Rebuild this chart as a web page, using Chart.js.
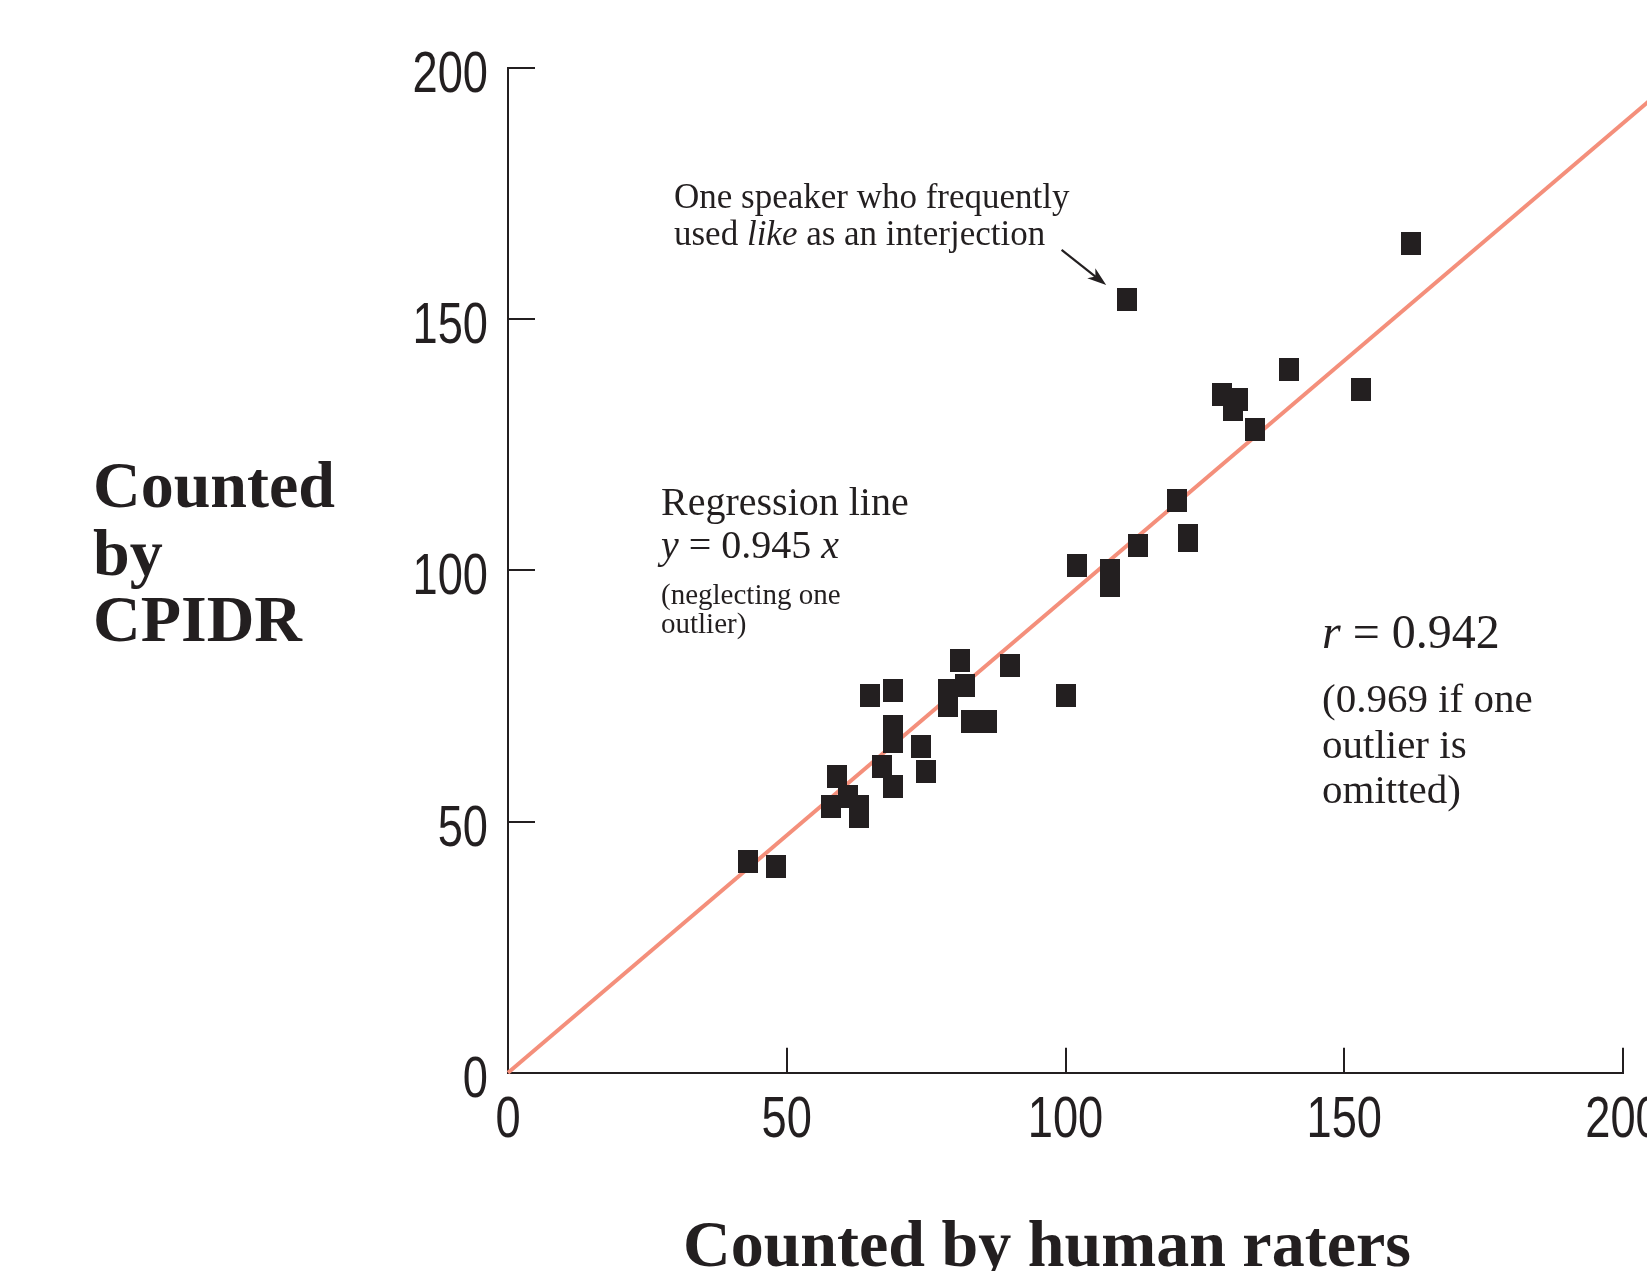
<!DOCTYPE html>
<html><head><meta charset="utf-8">
<script src="https://cdn.jsdelivr.net/npm/chart.js@4"></script>
<style>
html,body{margin:0;padding:0;background:#fff;overflow:hidden;width:1647px;height:1271px;}
#wrap{position:absolute;left:0;top:0;width:1720px;height:1271px;}
canvas{display:block;}
</style></head><body>
<div id="wrap"><canvas id="c" width="1720" height="1271"></canvas></div>
<script>
// ---- data ----
const humanCounts = [43, 48, 59, 58, 61, 63, 63, 65, 69, 69, 69, 67, 69, 74, 75,
                     81, 90, 82, 79, 79, 83, 86, 100, 102, 108, 108, 113, 120, 122, 122,
                     162, 140, 153, 128, 131, 130, 134, 111];
const cpidrCounts = [42, 41, 59, 53, 55, 53, 51, 75, 76, 69, 66, 61, 57, 65, 60,
                     82, 81, 77, 76, 73, 70, 70, 75, 101, 100, 97, 105, 114, 107, 106,
                     165, 140, 136, 135, 134, 132, 128, 154];
const regressionX = [0, 215];
const regressionY = [0, 203.2];
const xTickValues = [0, 50, 100, 150, 200];
const yTickValues = [0, 50, 100, 150, 200];
const xTitle = 'Counted by human raters';
const yTitleLines = ['Counted', 'by', 'CPIDR'];

const INK = '#231F20';
const LINE = '#F48F7B';
const TICKFONT = '"Liberation Sans", Arial, sans-serif';
const SERIF = '"Liberation Serif", "Times New Roman", serif';

// rectangular marker
const marker = document.createElement('canvas');
marker.width = 20; marker.height = 23;
{ const m = marker.getContext('2d'); m.fillStyle = INK; m.fillRect(0, 0, 20, 23); }

const points = humanCounts.map((v, i) => ({x: v, y: cpidrCounts[i]}));
const regLine = regressionX.map((v, i) => ({x: v, y: regressionY[i]}));

function drawRuns(ctx, runs, x, y, size) {
  let cx = x;
  runs.forEach(r => {
    ctx.font = (r.i ? 'italic ' : '') + (r.b ? 'bold ' : '') + size + 'px ' + SERIF;
    ctx.fillText(r.t, cx, y);
    cx += ctx.measureText(r.t).width;
  });
}

// condensed tick labels (narrow sans), drawn at the scales' tick positions
function condensedText(ctx, text, x, y, align) {
  const sx = 0.78;
  ctx.save();
  ctx.font = '58px ' + TICKFONT;
  ctx.textBaseline = 'alphabetic';
  const w = ctx.measureText(text).width * sx;
  let left = x;
  if (align === 'right') left = x - w;
  else if (align === 'center') left = x - w / 2;
  ctx.translate(left, y);
  ctx.scale(sx, 1);
  ctx.textAlign = 'left';
  ctx.fillText(text, 0, 0);
  ctx.restore();
}

const inwardTicks = {
  id: 'inwardTicks',
  beforeDatasetsDraw(chart) {
    const ctx = chart.ctx, xs = chart.scales.x, ys = chart.scales.y;
    ctx.save();
    ctx.strokeStyle = INK; ctx.lineWidth = 2;
    ctx.beginPath();
    ys.ticks.forEach(t => { const py = Math.round(ys.getPixelForValue(t.value)); ctx.moveTo(xs.left, py); ctx.lineTo(xs.left + 27, py); });
    xs.ticks.forEach(t => { const px = Math.round(xs.getPixelForValue(t.value)); ctx.moveTo(px, ys.bottom); ctx.lineTo(px, ys.bottom - 25); });
    ctx.stroke();
    ctx.fillStyle = INK;
    ys.ticks.forEach(t => condensedText(ctx, String(t.value), xs.left - 20, ys.getPixelForValue(t.value) + 24, 'right'));
    xs.ticks.forEach(t => condensedText(ctx, String(t.value), xs.getPixelForValue(t.value), ys.bottom + 64, 'center'));
    ctx.restore();
  }
};

const annotations = {
  id: 'annotations',
  afterDraw(chart) {
    const ctx = chart.ctx, xs = chart.scales.x, ys = chart.scales.y;
    ctx.save();
    ctx.fillStyle = INK;
    ctx.textAlign = 'left';
    ctx.textBaseline = 'alphabetic';
    // y title
    ctx.font = 'bold 66px ' + SERIF;
    const yBase = [507, 575, 641];
    yTitleLines.forEach((l, i) => ctx.fillText(l, 93, yBase[i]));
    // x title
    ctx.fillText(xTitle, 683, 1266);
    // outlier note
    drawRuns(ctx, [{t: 'One speaker who frequently'}], 674, 208, 35);
    drawRuns(ctx, [{t: 'used '}, {t: 'like', i: true}, {t: ' as an interjection'}], 674, 245, 35);
    // regression note
    drawRuns(ctx, [{t: 'Regression line'}], 661, 515, 40);
    drawRuns(ctx, [{t: 'y', i: true}, {t: ' = 0.945 '}, {t: 'x', i: true}], 661, 558, 40);
    drawRuns(ctx, [{t: '(neglecting one'}], 661, 604, 29);
    drawRuns(ctx, [{t: 'outlier)'}], 661, 633, 29);
    // r note
    drawRuns(ctx, [{t: 'r', i: true}, {t: ' = 0.942'}], 1322, 648, 48);
    drawRuns(ctx, [{t: '(0.969 if one'}], 1322, 712, 41);
    drawRuns(ctx, [{t: 'outlier is'}], 1322, 758, 41);
    drawRuns(ctx, [{t: 'omitted)'}], 1322, 803, 41);
    // arrow toward the outlier (anchored in data space)
    const x1 = xs.getPixelForValue(99.3), y1 = ys.getPixelForValue(163.8);
    const x2 = xs.getPixelForValue(107.3), y2 = ys.getPixelForValue(156.8);
    const ang = Math.atan2(y2 - y1, x2 - x1);
    const hl = 19, hw = 6.5;
    ctx.strokeStyle = INK; ctx.lineWidth = 2.2;
    ctx.beginPath();
    ctx.moveTo(x1, y1);
    ctx.lineTo(x2 - Math.cos(ang) * hl * 0.7, y2 - Math.sin(ang) * hl * 0.7);
    ctx.stroke();
    ctx.beginPath();
    ctx.moveTo(x2, y2);
    ctx.lineTo(x2 - Math.cos(ang) * hl + Math.sin(ang) * hw, y2 - Math.sin(ang) * hl - Math.cos(ang) * hw);
    ctx.lineTo(x2 - Math.cos(ang) * hl * 0.72, y2 - Math.sin(ang) * hl * 0.72);
    ctx.lineTo(x2 - Math.cos(ang) * hl - Math.sin(ang) * hw, y2 - Math.sin(ang) * hl + Math.cos(ang) * hw);
    ctx.closePath();
    ctx.fill();
    ctx.restore();
  }
};

new Chart(document.getElementById('c'), {
  type: 'scatter',
  data: {
    datasets: [
      { label: 'Speakers', data: points, pointStyle: marker, pointRadius: 10, pointHoverRadius: 10,
        backgroundColor: INK, borderColor: INK },
      { type: 'line', label: 'Regression', data: regLine, borderColor: LINE, borderWidth: 4,
        pointRadius: 0, fill: false, clip: false, tension: 0 }
    ]
  },
  options: {
    responsive: false,
    devicePixelRatio: 1,
    animation: false,
    events: [],
    layout: { padding: { top: 68, right: 97, left: 0, bottom: 0 } },
    plugins: { legend: { display: false }, tooltip: { enabled: false } },
    scales: {
      x: {
        type: 'linear', min: 0, max: 200,
        afterBuildTicks(s) { s.ticks = xTickValues.map(v => ({value: v})); },
        ticks: { display: false },
        grid: { drawOnChartArea: false, drawTicks: false },
        border: { display: true, color: INK, width: 2 },
        afterFit(s) { s.height = 1271 - 1072.7; }
      },
      y: {
        type: 'linear', min: 0, max: 200,
        afterBuildTicks(s) { s.ticks = yTickValues.map(v => ({value: v})); },
        ticks: { display: false },
        grid: { drawOnChartArea: false, drawTicks: false },
        border: { display: true, color: INK, width: 2 },
        afterFit(s) { s.width = 508; }
      }
    }
  },
  plugins: [inwardTicks, annotations]
});
</script>
</body></html>
